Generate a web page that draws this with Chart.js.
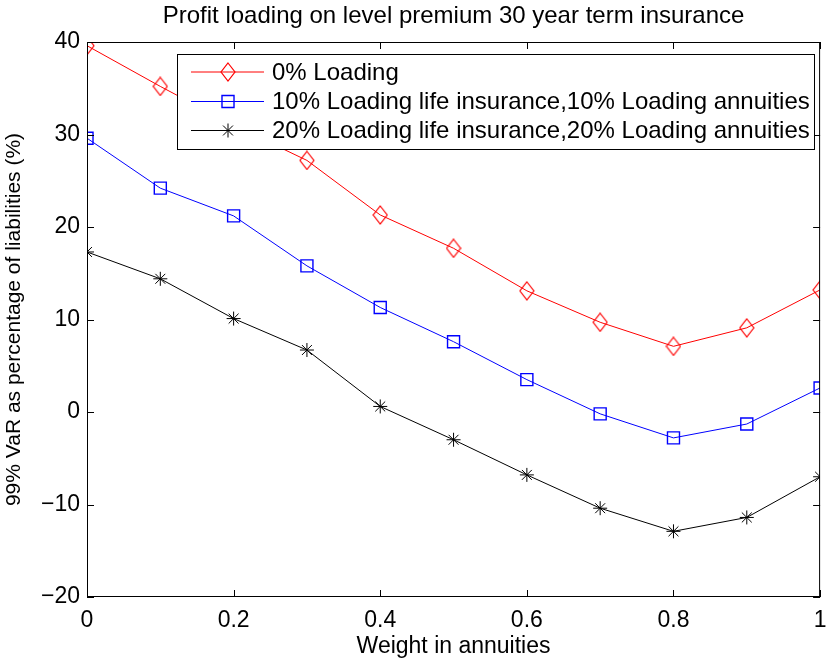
<!DOCTYPE html>
<html lang="en">

<head>
    <meta charset="utf-8">
    <title>Profit loading VaR chart</title>
    <script src="https://cdn.jsdelivr.net/npm/chart.js@4.4.1/dist/chart.umd.min.js"></script>
    <style>
        body {
            margin: 0;
            padding: 0;
            background-color: #ffffff;
        }

        #chart-container {
            width: 830px;
            height: 661px;
        }
    </style>
</head>

<body>
    <div id="chart-container">
        <canvas id="varChart" width="830" height="661"></canvas>
    </div>

    <script>
        // data
        const weights = [0, 0.1, 0.2, 0.3, 0.4, 0.5, 0.6, 0.7, 0.8, 0.9, 1.0];
        const noLoading = [39.6, 35.2, 31.0, 27.2, 21.3, 17.7, 13.1, 9.7, 7.1, 9.1, 13.2];
        const loading10 = [29.6, 24.2, 21.2, 15.8, 11.3, 7.6, 3.5, -0.2, -2.8, -1.3, 2.6];
        const loading20 = [17.3, 14.4, 10.1, 6.7, 0.6, -3.0, -6.8, -10.4, -12.9, -11.4, -7.0];
        const seriesNames = [
            '0% Loading',
            '10% Loading life insurance,10% Loading annuities',
            '20% Loading life insurance,20% Loading annuities'
        ];
        const xTicks = [0, 0.2, 0.4, 0.6, 0.8, 1];
        const yTicks = [-20, -10, 0, 10, 20, 30, 40];

        const FONT = "'Liberation Sans', Arial, sans-serif";

        // MATLAB style diamond, a bit taller than wide
        function makeDiamond(color) {
            const c = document.createElement('canvas');
            c.width = 16;
            c.height = 20;
            const g = c.getContext('2d');
            g.strokeStyle = color;
            g.lineWidth = 1.2;
            g.beginPath();
            g.moveTo(8, 1);
            g.lineTo(15, 10);
            g.lineTo(8, 19);
            g.lineTo(1, 10);
            g.closePath();
            g.stroke();
            return c;
        }

        function toPoints(ys) {
            return weights.map((w, i) => ({ x: w, y: ys[i] }));
        }

        // box, inward ticks, title and legend drawn like matlab
        const matlabBox = {
            id: 'matlabBox',
            afterDraw(chart) {
                const { ctx, chartArea: a, scales } = chart;
                const tick = 7;
                ctx.save();
                ctx.strokeStyle = '#000';
                ctx.lineWidth = 1;
                ctx.strokeRect(a.left + 0.5, a.top + 0.5, a.right - a.left - 1, a.bottom - a.top - 1);
                ctx.beginPath();
                xTicks.forEach(v => {
                    const px = Math.round(scales.x.getPixelForValue(v)) + 0.5;
                    ctx.moveTo(px, a.bottom);
                    ctx.lineTo(px, a.bottom - tick);
                    ctx.moveTo(px, a.top);
                    ctx.lineTo(px, a.top + tick);
                });
                yTicks.forEach(v => {
                    const py = Math.round(scales.y.getPixelForValue(v)) + 0.5;
                    ctx.moveTo(a.left, py);
                    ctx.lineTo(a.left + tick, py);
                    ctx.moveTo(a.right, py);
                    ctx.lineTo(a.right - tick, py);
                });
                ctx.stroke();

                // title
                ctx.fillStyle = '#000';
                ctx.font = '24px ' + FONT;
                ctx.textAlign = 'center';
                ctx.textBaseline = 'middle';
                ctx.fillText('Profit loading on level premium 30 year term insurance', (a.left + a.right) / 2, 16);

                // legend
                const lx = 177, ly = 54, lw = 637, lh = 95;
                ctx.fillStyle = '#fff';
                ctx.fillRect(lx, ly, lw, lh);
                ctx.strokeRect(lx + 0.5, ly + 0.5, lw, lh);
                const rows = [72, 101.5, 130.5];
                chart.data.datasets.forEach((ds, i) => {
                    const y = rows[i];
                    ctx.strokeStyle = ds.borderColor;
                    ctx.lineWidth = 1;
                    ctx.beginPath();
                    ctx.moveTo(191, y);
                    ctx.lineTo(264, y);
                    ctx.stroke();
                    ctx.fillStyle = 'rgba(0,0,0,0)';
                    ctx.lineWidth = ds.pointBorderWidth;
                    Chart.helpers.drawPoint(ctx, {
                        pointStyle: ds.pointStyle,
                        radius: ds.pointRadius,
                        borderWidth: ds.pointBorderWidth
                    }, 228, y);
                    ctx.fillStyle = '#000';
                    ctx.font = '24px ' + FONT;
                    ctx.textAlign = 'left';
                    ctx.textBaseline = 'middle';
                    ctx.fillText(ds.label, 272, y + 1);
                });
                ctx.restore();
            }
        };

        const ctx = document.getElementById('varChart').getContext('2d');

        const varChart = new Chart(ctx, {
            type: 'line',
            data: {
                datasets: [
                    {
                        label: seriesNames[0],
                        data: toPoints(noLoading),
                        borderColor: '#ff0000',
                        backgroundColor: 'rgba(0,0,0,0)',
                        borderWidth: 1,
                        pointStyle: makeDiamond('#ff0000'),
                        pointRadius: 8,
                        pointBorderWidth: 1
                    },
                    {
                        label: seriesNames[1],
                        data: toPoints(loading10),
                        borderColor: '#0000ff',
                        backgroundColor: 'rgba(0,0,0,0)',
                        borderWidth: 1,
                        pointStyle: 'rect',
                        pointRadius: 8.5,
                        pointBorderWidth: 1.4
                    },
                    {
                        label: seriesNames[2],
                        data: toPoints(loading20),
                        borderColor: '#000000',
                        backgroundColor: 'rgba(0,0,0,0)',
                        borderWidth: 1,
                        pointStyle: 'star',
                        pointRadius: 7,
                        pointBorderWidth: 1
                    }
                ]
            },
            options: {
                responsive: false,
                animation: false,
                maintainAspectRatio: false,
                layout: {
                    padding: { top: 42, right: 3, left: 0, bottom: 0 }
                },
                plugins: {
                    legend: { display: false },
                    title: { display: false },
                    tooltip: { enabled: false }
                },
                elements: {
                    line: { tension: 0 }
                },
                scales: {
                    x: {
                        type: 'linear',
                        min: 0,
                        max: 1,
                        afterFit: s => {
                            s.height = 64;
                            s.paddingLeft = 0;
                            s.paddingRight = 0;
                        },
                        afterBuildTicks: s => { s.ticks = xTicks.map(v => ({ value: v })); },
                        grid: { display: false, drawTicks: false },
                        border: { display: false },
                        ticks: {
                            color: '#000',
                            padding: 10,
                            maxRotation: 0,
                            font: { family: FONT, size: 23 },
                            callback: v => String(v)
                        },
                        title: {
                            display: true,
                            text: 'Weight in annuities',
                            color: '#000',
                            padding: { top: 0, bottom: 1 },
                            font: { family: FONT, size: 23 }
                        }
                    },
                    y: {
                        min: -20,
                        max: 40,
                        afterFit: s => {
                            s.width = 87;
                            s.paddingTop = 0;
                            s.paddingBottom = 0;
                        },
                        afterBuildTicks: s => { s.ticks = yTicks.map(v => ({ value: v })); },
                        grid: { display: false, drawTicks: false },
                        border: { display: false },
                        ticks: {
                            color: '#000',
                            padding: 7,
                            font: { family: FONT, size: 23 },
                            callback: v => String(v).replace('-', '\u2212')
                        },
                        title: {
                            display: true,
                            text: '99% VaR as percentage of liabilities (%)',
                            color: '#000',
                            padding: { top: 2, bottom: 0 },
                            font: { family: FONT, size: 21 }
                        }
                    }
                }
            },
            plugins: [matlabBox]
        });
    </script>
</body>

</html>
